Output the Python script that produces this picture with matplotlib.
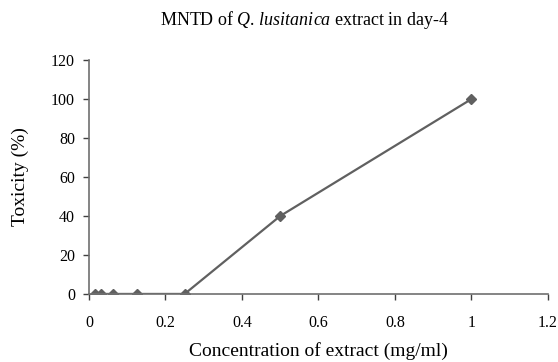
import matplotlib.pyplot as plt

conc = [0.015625, 0.03125, 0.0625, 0.125, 0.25, 0.5, 1.0]
toxicity = [0, 0, 0, 0, 0, 40, 100]
x_ticks = [0, 0.2, 0.4, 0.6, 0.8, 1, 1.2]
x_labels = ["0", "0.2", "0.4", "0.6", "0.8", "1", "1.2"]
y_ticks = [0, 20, 40, 60, 80, 100, 120]

plt.rcParams["font.family"] = ["Liberation Serif", "DejaVu Serif"]
plt.rcParams["mathtext.fontset"] = "custom"
plt.rcParams["mathtext.rm"] = "Liberation Serif"
plt.rcParams["mathtext.it"] = "Liberation Serif:italic"

fig = plt.figure(figsize=(5.58, 3.62), dpi=100)
ax = fig.add_axes([0.1595, 0.188, 0.8225, 0.646])

line_col = "#606060"
ax.plot(conc, toxicity, color=line_col, lw=1.6, marker="D", ms=5,
        markerfacecolor=line_col, markeredgecolor=line_col)

ax.set_xlim(0, 1.2)
ax.set_ylim(0, 120)
ax.set_xticks(x_ticks)
ax.set_xticklabels(x_labels)
ax.set_yticks(y_ticks)
ax.tick_params(direction="out", length=4, width=1, colors="#404040",
               labelcolor="black", labelsize=11.5)
ax.tick_params(axis="x", pad=11)
ax.tick_params(axis="y", pad=6)

for s in ["top", "right"]:
    ax.spines[s].set_visible(False)
for s in ["left", "bottom"]:
    ax.spines[s].set_color("#707070")
    ax.spines[s].set_linewidth(1.2)

ax.set_xlabel("Concentration of extract (mg/ml)", fontsize=14, labelpad=8)
ax.set_ylabel("Toxicity (%)", fontsize=14, labelpad=16)
fig.text(305 / 558, 1 - 20 / 362,
         "MNTD of $\\mathit{Q}$. $\\mathit{lusitanica}$ extract in day-4",
         fontsize=13, ha="center", va="center")

fig.savefig("out.png", dpi=100)
